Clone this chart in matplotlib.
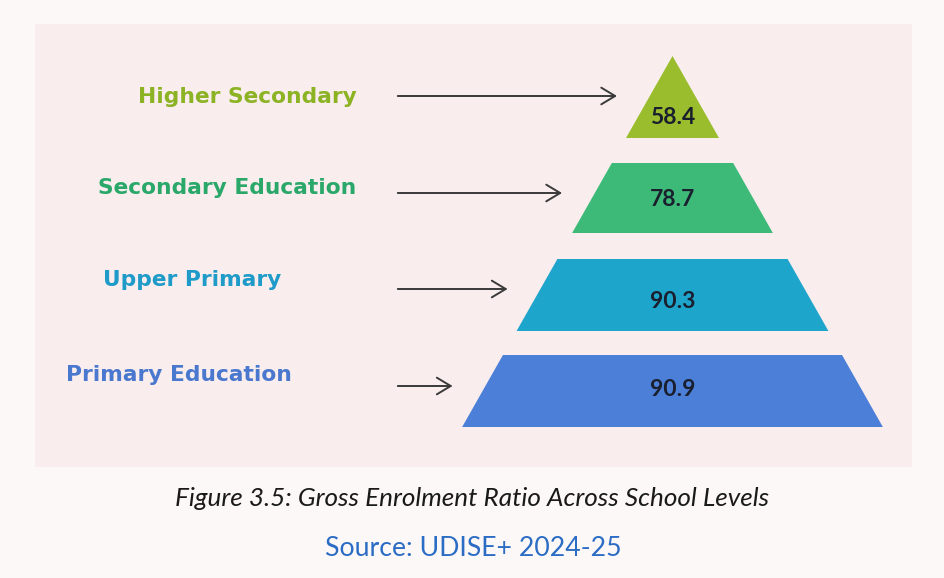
import matplotlib.pyplot as plt
from matplotlib.patches import Polygon, Rectangle, FancyArrowPatch

# data (top of pyramid first)
levels = ["Higher Secondary", "Secondary Education", "Upper Primary", "Primary Education"]
ger = [58.4, 78.7, 90.3, 90.9]
colors = ["#99bd2c", "#3dba78", "#1ea5cc", "#4b7fd8"]
text_colors = ["#8cb324", "#2aa86a", "#1e9bc8", "#4a78cf"]

caption = "Figure 3.5: Gross Enrolment Ratio Across School Levels"
source = "Source: UDISE+ 2024-25"

# layout (pixel coords, y downward)
W, H = 944, 578
cx, apex_y, slope = 672.5, 56, 0.567
tier_top = [56, 163, 259, 355]
tier_bot = [138, 233, 331, 427]
value_y = [118, 200, 302, 390]
label_x = [138, 98, 103, 66]
label_y = [97, 188, 280, 375]
arrow_y = [96, 193, 289, 386]
arrow_x0 = 395

fig = plt.figure(figsize=(W / 100, H / 100), dpi=100)
fig.patch.set_facecolor("#fdf8f8")
ax = fig.add_axes([0, 0, 1, 1])
ax.set_xlim(0, W)
ax.set_ylim(H, 0)
ax.axis("off")

ax.add_patch(Rectangle((35, 24), 877, 443, facecolor="#faeded", edgecolor="none"))


def half(y):
    return (y - apex_y) * slope


for i in range(len(levels)):
    t, b = tier_top[i], tier_bot[i]
    pts = [(cx - half(t), t), (cx + half(t), t), (cx + half(b), b), (cx - half(b), b)]
    ax.add_patch(Polygon(pts, closed=True, facecolor=colors[i], edgecolor="none"))
    ax.text(cx, value_y[i], f"{ger[i]}", ha="center", va="center",
            fontsize=16.5, fontweight="bold", color="#1a1f2e", family="Lato")
    ax.text(label_x[i], label_y[i], levels[i], ha="left", va="center",
            fontsize=15.7, fontweight="bold", color=text_colors[i], family="DejaVu Sans")
    x1 = cx - half(arrow_y[i]) - 30
    ax.add_patch(FancyArrowPatch((arrow_x0, arrow_y[i]), (x1, arrow_y[i]),
                                 arrowstyle="->,head_length=10,head_width=6",
                                 color="#3a3a3a", lw=1.4, mutation_scale=1))

ax.text(472, 499, caption, ha="center", va="center", fontsize=18.8,
        style="italic", color="#1a1a1a", family="Lato")
ax.text(473, 548, source, ha="center", va="center", fontsize=19.2,
        color="#2b6cc4", family="Lato")

fig.savefig("out.png", dpi=100, facecolor=fig.get_facecolor())
